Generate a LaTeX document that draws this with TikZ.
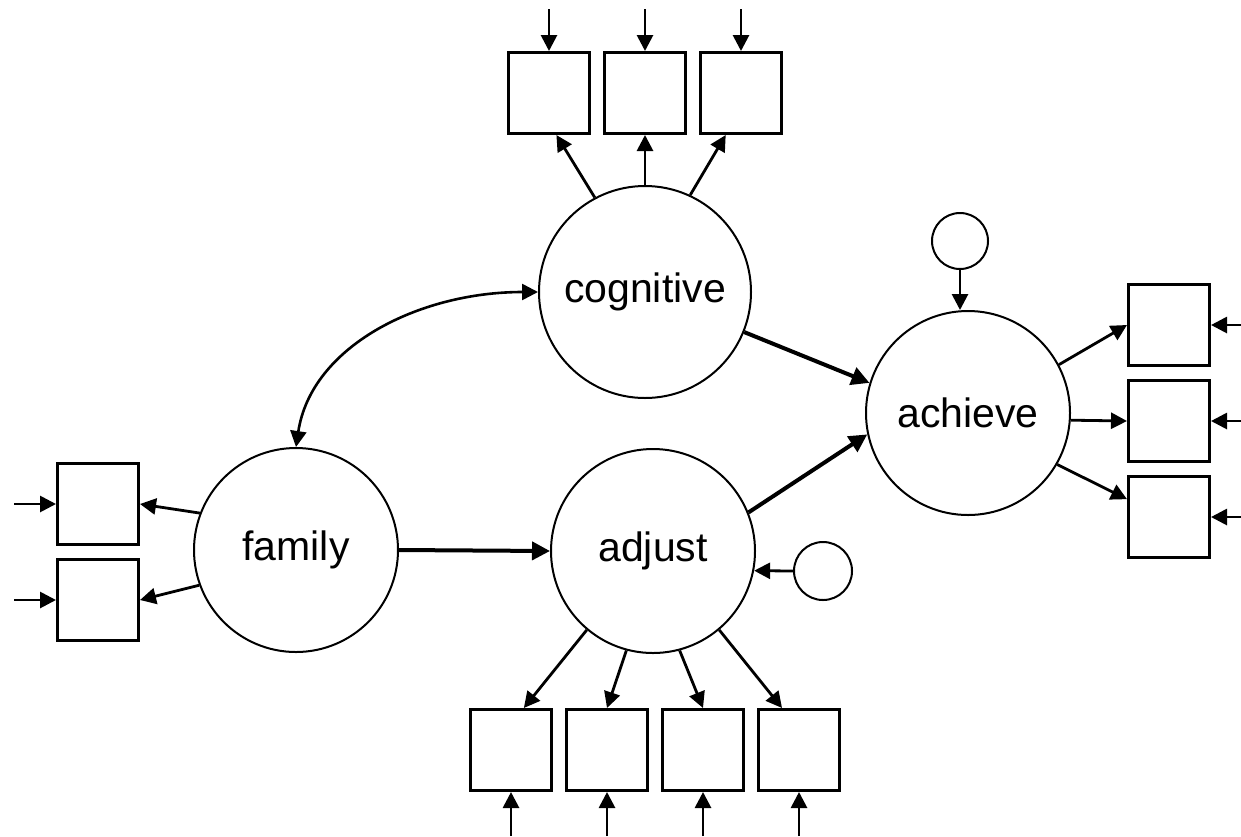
\documentclass[tikz,border=0pt]{standalone}
\usepackage{fontspec}
\setmainfont{Liberation Sans}
\usetikzlibrary{arrows.meta,positioning}
\tikzstyle{latent} = [circle, draw=black, line width=1pt, fill=white, text=black, text centered, font=\fontsize{20.5}{24}\selectfont, minimum size=102pt, inner sep=0pt]
\tikzstyle{obs} = [rectangle, draw=black, line width=1.5pt, fill=white, minimum size=40.5pt, inner sep=0pt]
\tikzstyle{resid} = [circle, draw=black, line width=1pt, fill=white, minimum size=28pt, inner sep=0pt]
\tikzstyle{load} = [line width=1.4pt, -{Triangle[length=8pt,width=8pt]}]
\tikzstyle{regr} = [line width=2pt, -{Triangle[length=9pt,width=9pt]}]
\tikzstyle{cov} = [line width=1.3pt, {Triangle[length=8pt,width=8pt]}-{Triangle[length=8pt,width=8pt]}]

\begin{document}
\begin{tikzpicture}[x=0.5pt,y=-0.5pt]
\useasboundingbox (0,0) rectangle (1241,836);

% latent variables =============================
\node[latent, minimum size=106pt] (cog) at (645,292) {cognitive};
\node[latent] (ach) at (968,413) {achieve};
\node[latent] (fam) at (296,550) {family};
\node[latent] (adj) at (653,551) {adjust};

% disturbances
\node[resid] (d1) at (960,241) {};
\node[resid, minimum size=29pt] (d2) at (823,571) {};

% cognitive indicators
\node[obs] (c2) at (645,93) {};
\node[obs, left=6pt of c2] (c1) {};
\node[obs, right=6pt of c2] (c3) {};

% achieve indicators
\node[obs] (a2) at (1169,421) {};
\node[obs, above=6pt of a2] (a1) {};
\node[obs, below=6pt of a2] (a3) {};

% family indicators
\node[obs] (f1) at (98,504) {};
\node[obs, below=6pt of f1] (f2) {};

% adjust indicators
\node[obs] (b1) at (511,750) {};
\node[obs, right=6pt of b1] (b2) {};
\node[obs, right=6pt of b2] (b3) {};
\node[obs, right=6pt of b3] (b4) {};

% error ends
\coordinate[above=21pt of c1.north] (ec1);
\coordinate[above=21pt of c2.north] (ec2);
\coordinate[above=21pt of c3.north] (ec3);
\coordinate[right=15pt of a1.east] (ea1);
\coordinate[right=15pt of a2.east] (ea2);
\coordinate[right=15pt of a3.east] (ea3);
\coordinate[left=21pt of f1.west] (ef1);
\coordinate[left=21pt of f2.west] (ef2);
\coordinate[below=22pt of b1.south] (eb1);
\coordinate[below=22pt of b2.south] (eb2);
\coordinate[below=22pt of b3.south] (eb3);
\coordinate[below=22pt of b4.south] (eb4);

% errors into indicators
\draw[load] (ec1) -- (c1);
\draw[load] (ec2) -- (c2);
\draw[load] (ec3) -- (c3);
\draw[load] (ea1) -- (a1);
\draw[load] (ea2) -- (a2);
\draw[load] (ea3) -- (a3);
\draw[load] (ef1) -- (f1);
\draw[load] (ef2) -- (f2);
\draw[load] (eb1) -- (b1);
\draw[load] (eb2) -- (b2);
\draw[load] (eb3) -- (b3);
\draw[load] (eb4) -- (b4);

% loadings
\draw[load] (cog.118) -- (c1.280);
\draw[load] (cog.north) -- (c2.south);
\draw[load] (cog.65) -- (c3.250);
\draw[load] (ach.28) -- (a1.west);
\draw[load] (ach.-4) -- (a2.west);
\draw[load] (ach.-30) -- (a3.157);
\draw[load] (fam.159) -- (f1.east);
\draw[load] (fam.200) -- (f2.east);
\draw[load] (adj.230) -- (b1.73);
\draw[load] (adj.255) -- (b2.north);
\draw[load] (adj.285) -- (b3.north);
\draw[load] (adj.310) -- (b4.112);

% disturbances into latents
\draw[load] (d1.south) -- (d1.south |- ach.north);
\draw[load] (d2.west) -- (adj.-11);

% structural paths
\draw[regr] (cog.-22) -- (ach.163);
\draw[regr] (adj.22) -- (ach.192);
\draw[regr] (fam.east) -- (adj.west);
\draw[cov] (fam.north) .. controls +(15,-100) and +(-120,0) .. (cog.west);

\end{tikzpicture}
\end{document}
